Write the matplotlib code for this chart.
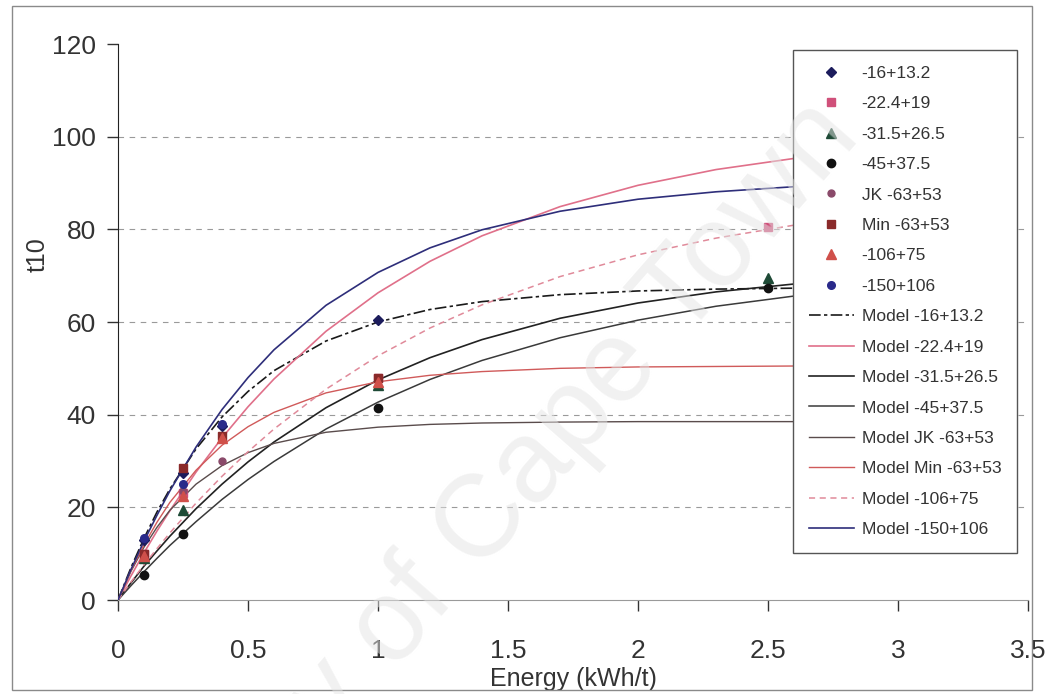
import matplotlib
matplotlib.use("Agg")
import matplotlib.pyplot as plt
from matplotlib.patches import Rectangle

plt.rcParams['font.family'] = ['Liberation Sans', 'DejaVu Sans']

# ---------------- data ----------------
series_names = ["-16+13.2", "-22.4+19", "-31.5+26.5", "-45+37.5",
                "JK -63+53", "Min -63+53", "-106+75", "-150+106"]

e_16 = [0.1, 0.25, 0.4, 1.0]
t_16 = [13.0, 27.5, 37.5, 60.5]
e_22 = [0.1, 0.25, 1.0, 2.5]
t_22 = [10.0, 23.0, 48.0, 80.5]
e_31 = [0.1, 0.25, 1.0, 2.5]
t_31 = [9.0, 19.5, 46.5, 69.5]
e_45 = [0.1, 0.25, 1.0, 2.5]
t_45 = [5.3, 14.3, 41.5, 67.3]
e_jk = [0.1, 0.25, 0.4]
t_jk = [10.0, 23.5, 30.0]
e_min = [0.1, 0.25, 0.4, 1.0]
t_min = [10.0, 28.5, 35.5, 48.0]
e_106 = [0.1, 0.25, 0.4, 1.0]
t_106 = [9.5, 22.5, 35.0, 47.0]
e_150 = [0.1, 0.25, 0.4]
t_150 = [13.4, 25.0, 38.0]

# model curves, values
e_model = [0, 0.05, 0.1, 0.15, 0.2, 0.3, 0.4, 0.5, 0.6, 0.8, 1.0, 1.2,
           1.4, 1.7, 2.0, 2.3, 2.6, 3.0, 3.4]
m_16 = [0, 7.0, 13.3, 19.0, 24.0, 32.6, 39.5, 45.0, 49.5, 55.9, 60.0, 62.7,
        64.4, 65.9, 66.7, 67.1, 67.3, 67.4, 67.5]
m_22 = [0, 5.2, 10.2, 14.9, 19.3, 27.6, 35.0, 41.7, 47.7, 58.0, 66.3, 73.1,
        78.6, 84.9, 89.5, 92.9, 95.3, 97.6, 99.4]
m_31 = [0, 3.7, 7.3, 10.6, 13.8, 19.7, 25.0, 29.8, 34.1, 41.5, 47.5, 52.3,
        56.2, 60.8, 64.1, 66.5, 68.2, 69.9, 71.2]
m_45 = [0, 3.1, 6.1, 9.0, 11.8, 16.9, 21.7, 26.0, 29.9, 36.9, 42.7, 47.6,
        51.7, 56.6, 60.4, 63.4, 65.6, 67.8, 69.6]
m_jk = [0, 6.2, 11.4, 15.7, 19.4, 25.0, 29.0, 31.8, 33.8, 36.2, 37.3, 37.9,
        38.2, 38.4, 38.5, 38.5, 38.5, 38.5, 38.5]
m_min = [0, 6.4, 11.9, 16.8, 21.1, 28.0, 33.4, 37.4, 40.5, 44.7, 47.1, 48.5,
         49.3, 50.0, 50.3, 50.4, 50.5, 50.5, 50.5]
m_106 = [0, 3.9, 7.6, 11.1, 14.5, 20.9, 26.7, 32.0, 36.9, 45.5, 52.7, 58.7,
         63.7, 69.8, 74.5, 78.1, 80.9, 83.6, 85.9]
m_150 = [0, 6.6, 12.7, 18.3, 23.6, 33.0, 41.1, 48.0, 54.0, 63.6, 70.7, 76.0,
         79.9, 83.9, 86.5, 88.1, 89.2, 90.0, 90.5]

x_ticks = [0, 0.5, 1, 1.5, 2, 2.5, 3, 3.5]
x_tick_labels = ["0", "0.5", "1", "1.5", "2", "2.5", "3", "3.5"]
y_ticks = [0, 20, 40, 60, 80, 100, 120]

# ---------------- figure ----------------
fig = plt.figure(figsize=(10.52, 6.94), dpi=100)
ax = fig.add_axes([118 / 1052, 1 - 600 / 694, 910 / 1052, 556 / 694])

# outer chart frame
fig.patches.append(Rectangle((12 / 1052, 4 / 694), 1020 / 1052, 684 / 694,
                             transform=fig.transFigure, fill=False,
                             edgecolor="#8a8a8a", linewidth=1.0))

for y in y_ticks[1:-1]:
    ax.axhline(y, color="#9a9a9a", linewidth=0.8, dashes=(5, 5), zorder=1)

data_sets = [(e_16, t_16), (e_22, t_22), (e_31, t_31), (e_45, t_45),
             (e_jk, t_jk), (e_min, t_min), (e_106, t_106), (e_150, t_150)]
markers = ["D", "s", "^", "o", "o", "s", "^", "o"]
mcolors = ["#1c1c5c", "#d0507a", "#1e4a36", "#111111",
           "#8a4a6a", "#8a2a2a", "#d0504a", "#2a2a8a"]
msizes = [5.5, 5.5, 6.5, 6, 5, 5.5, 6.5, 5.5]

handles = []
for (ex, tx), mk, mc, ms, nm in zip(data_sets, markers, mcolors, msizes, series_names):
    h, = ax.plot(ex, tx, linestyle="none", marker=mk, color=mc, markersize=ms,
                 label=nm, zorder=4)
    handles.append(h)

models = [m_16, m_22, m_31, m_45, m_jk, m_min, m_106, m_150]
lcolors = ["#1a1a1a", "#e0708a", "#222222", "#3a3a3a",
           "#5a4c4c", "#d05a5a", "#e08a9a", "#2e2e7a"]
ldashes = [(7, 2, 2, 2), None, None, None, None, None, (4, 3), None]
lwidths = [1.2, 1.2, 1.2, 1.1, 1.0, 1.0, 1.1, 1.2]
for mv, lc, ld, lw, nm in zip(models, lcolors, ldashes, lwidths, series_names):
    kw = {}
    if ld is not None:
        kw["dashes"] = ld
    h, = ax.plot(e_model, mv, color=lc, linewidth=lw, label="Model " + nm,
                 zorder=3, **kw)
    handles.append(h)

ax.set_xlim(0, 3.5)
ax.set_ylim(0, 120)
ax.set_xticks(x_ticks)
ax.set_xticklabels(x_tick_labels)
ax.set_yticks(y_ticks)
ax.tick_params(axis="both", labelsize=19, colors="#333333", length=8,
               width=1, direction="out")
ax.tick_params(axis="x", pad=20)
ax.tick_params(axis="y", pad=8)

for s in ("top", "right"):
    ax.spines[s].set_visible(False)
ax.spines["left"].set_color("#222222")
ax.spines["bottom"].set_color("#9a9a9a")

ax.set_xlabel("Energy (kWh/t)", fontsize=18, color="#333333", labelpad=3)
fig.text(38 / 1052, 1 - 255 / 694, "t10", rotation=90, fontsize=18,
         color="#333333", ha="center", va="center")

leg = fig.legend(handles=handles, loc="upper left",
                 bbox_to_anchor=(793 / 1052, 1 - 50 / 694),
                 bbox_transform=fig.transFigure, fontsize=12.5,
                 frameon=True, fancybox=False, framealpha=1.0,
                 borderaxespad=0, labelspacing=0.88, handlelength=2.6,
                 handletextpad=0.45, borderpad=0.9)
leg.get_frame().set_edgecolor("#555555")
leg.get_frame().set_linewidth(1.0)
for t in leg.get_texts():
    t.set_color("#333333")

# scanned watermark
fig.text(425 / 1052, 1 - 590 / 694, "University of Cape Town", rotation=48.8,
         fontsize=84, color="#e4e4e4", alpha=0.5, ha="center", va="center",
         rotation_mode="anchor", zorder=10)

fig.savefig("out.png", dpi=100)
